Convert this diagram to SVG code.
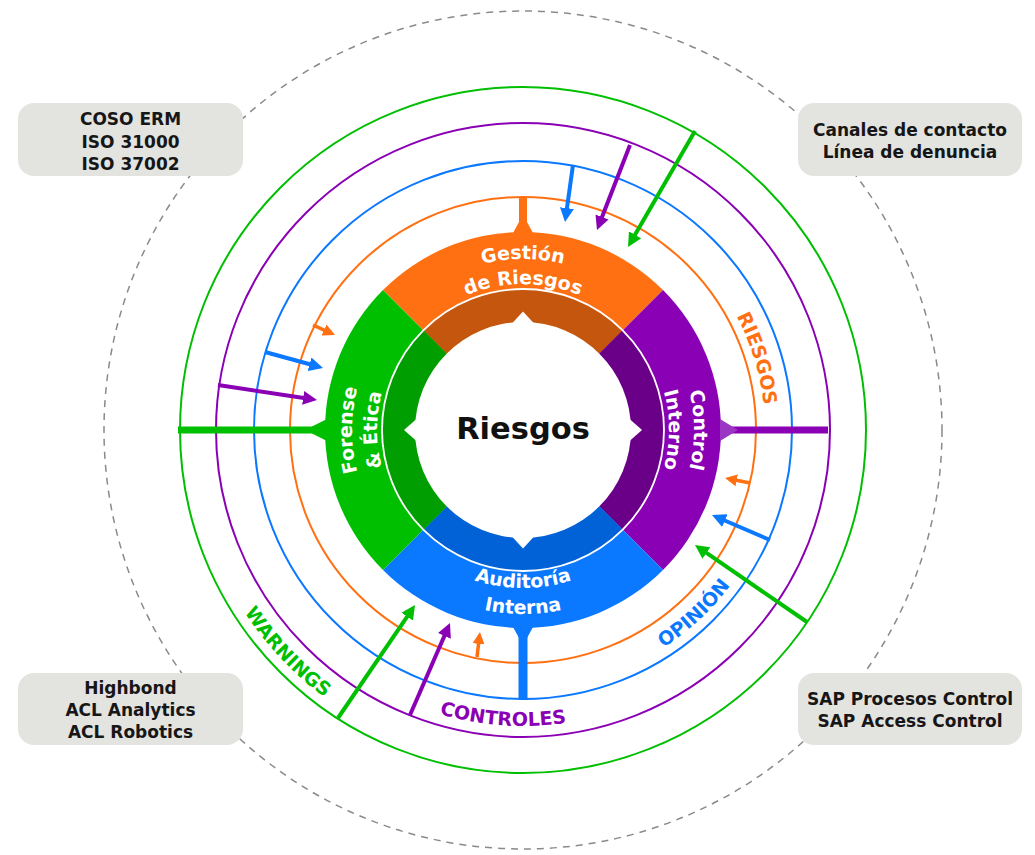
<svg xmlns="http://www.w3.org/2000/svg" width="1035" height="855" viewBox="0 0 1035 855">
<style>
.ring{fill:none;stroke-width:2}
.arr{fill:none;stroke-linecap:butt}
.wl{font-family:"DejaVu Sans","Liberation Sans",sans-serif;font-weight:bold;font-size:19px;fill:#ffffff}
.rl{font-family:"DejaVu Sans","Liberation Sans",sans-serif;font-weight:bold;font-size:19px}
.bx{fill:#e3e3e0}
.bt{font-family:"DejaVu Sans","Liberation Sans",sans-serif;font-weight:bold;font-size:17px;fill:#161616;text-anchor:middle}
</style>
<defs>
<marker id="hO" viewBox="0 0 12 12" refX="3" refY="6" markerWidth="12" markerHeight="12" markerUnits="userSpaceOnUse" orient="auto"><path d="M0,0 L12,6 L0,12 z" fill="#FF7012"/></marker>
<marker id="hB" viewBox="0 0 14 14" refX="4" refY="7" markerWidth="14" markerHeight="14" markerUnits="userSpaceOnUse" orient="auto"><path d="M0,0 L14,7 L0,14 z" fill="#0A78FF"/></marker>
<marker id="hP" viewBox="0 0 14 14" refX="4" refY="7" markerWidth="14" markerHeight="14" markerUnits="userSpaceOnUse" orient="auto"><path d="M0,0 L14,7 L0,14 z" fill="#8A00B4"/></marker>
<marker id="hG" viewBox="0 0 14 14" refX="4" refY="7" markerWidth="14" markerHeight="14" markerUnits="userSpaceOnUse" orient="auto"><path d="M0,0 L14,7 L0,14 z" fill="#00BF00"/></marker>
<path id="pGes" d="M352,430 A171,171 0 0 1 694,430"/>
<path id="pDeR" d="M377,430 A146,146 0 0 1 669,430"/>
<path id="pCon" d="M523,259 A171,171 0 0 1 523,601"/>
<path id="pInt" d="M523,284 A146,146 0 0 1 523,576"/>
<path id="pFor" d="M523,601 A171,171 0 0 1 523,259"/>
<path id="pEti" d="M523,576 A146,146 0 0 1 523,284"/>
<path id="pAud" d="M365,430 A158,158 0 0 0 681,430"/>
<path id="pIna" d="M339,430 A184,184 0 0 0 707,430"/>
<path id="pRie" d="M577.4,194.2 A242,242 0 0 1 700,595"/>
<path id="pOpi" d="M447.3,677.7 A259,259 0 0 0 775.4,371.7"/>
<path id="pCtl" d="M257,559.8 A296,296 0 0 0 768.4,595.5"/>
<path id="pWar" d="M204.1,334.3 A333,333 0 0 0 599.6,754.1"/>
</defs>

<rect width="1035" height="855" fill="#ffffff"/>

<g id="outer-ring">
<circle cx="523" cy="430" r="419" fill="none" stroke="#8a8a8a" stroke-width="1.5" stroke-dasharray="7 6"/>
</g>

<g id="rings">
<circle class="ring" cx="523" cy="430" r="343" stroke="#00BF00"/>
<circle class="ring" cx="523" cy="430" r="307" stroke="#8A00B4"/>
<circle class="ring" cx="523" cy="430" r="269" stroke="#0A78FF"/>
<circle class="ring" cx="523" cy="430" r="233" stroke="#FF7012"/>
</g>

<g id="ring-labels">
<text class="rl" fill="#FF7012"><textPath href="#pRie" startOffset="50%" text-anchor="middle">RIESGOS</textPath></text>
<text class="rl" fill="#0A78FF"><textPath href="#pOpi" startOffset="50%" text-anchor="middle">OPINIÓN</textPath></text>
<text class="rl" fill="#8A00B4"><textPath href="#pCtl" startOffset="50%" text-anchor="middle">CONTROLES</textPath></text>
<text class="rl" fill="#00BF00"><textPath href="#pWar" startOffset="50%" text-anchor="middle">WARNINGS</textPath></text>
</g>

<g id="stems">
<rect x="519" y="197" width="8" height="28" fill="#FF7012"/>
<path d="M513,233 L519,222 L527,222 L533,233 Z" fill="#FF7012"/>
<rect x="178" y="426.5" width="142" height="7" fill="#00BF00"/>
<path d="M312,426.5 L327,419 L327,441 L312,433.5 Z" fill="#00BF00"/>
<rect x="720" y="426.5" width="108" height="7" fill="#8A00B4"/>
<rect x="518.5" y="630" width="9" height="70" fill="#0A78FF"/>
<path d="M513,627 L519,638 L527,638 L533,627 Z" fill="#0A78FF"/>
</g>

<g id="node-gestion">
<path d="M523,430 L383,290 A198,198 0 0 1 663,290 Z" fill="#FF7012"/>
<path d="M523,430 L423.3,330.3 A141,141 0 0 1 622.7,330.3 Z" fill="#C4570D"/>
<text class="wl"><textPath href="#pGes" startOffset="50%" text-anchor="middle">Gestión</textPath></text>
<text class="wl"><textPath href="#pDeR" startOffset="50%" text-anchor="middle">de Riesgos</textPath></text>
</g>

<g id="node-control">
<path d="M523,430 L663,290 A198,198 0 0 1 663,570 Z" fill="#8A00B4"/>
<path d="M523,430 L622.7,330.3 A141,141 0 0 1 622.7,529.7 Z" fill="#6B0088"/>
<path d="M720,419 L738,430 L720,441 Z" fill="#9B35C4"/>
<text class="wl"><textPath href="#pCon" startOffset="50%" text-anchor="middle">Control</textPath></text>
<text class="wl"><textPath href="#pInt" startOffset="50%" text-anchor="middle">Interno</textPath></text>
</g>

<g id="node-auditoria">
<path d="M523,430 L663,570 A198,198 0 0 1 383,570 Z" fill="#0A78FF"/>
<path d="M523,430 L622.7,529.7 A141,141 0 0 1 423.3,529.7 Z" fill="#0062D6"/>
<text class="wl"><textPath href="#pAud" startOffset="50%" text-anchor="middle">Auditoría</textPath></text>
<text class="wl"><textPath href="#pIna" startOffset="50%" text-anchor="middle">Interna</textPath></text>
</g>

<g id="node-forense">
<path d="M523,430 L383,570 A198,198 0 0 1 383,290 Z" fill="#00BF00"/>
<path d="M523,430 L423.3,529.7 A141,141 0 0 1 423.3,330.3 Z" fill="#009E00"/>
<text class="wl"><textPath href="#pFor" startOffset="50%" text-anchor="middle">Forense</textPath></text>
<text class="wl"><textPath href="#pEti" startOffset="50%" text-anchor="middle">&amp; Ética</textPath></text>
</g>

<g id="node-riesgos">
<circle cx="523" cy="430" r="141" fill="none" stroke="#ffffff" stroke-width="1.8"/>
<circle cx="523" cy="430" r="108" fill="#ffffff"/>
<path d="M511.5,324 L523,311.5 L534.5,324 Z" fill="#ffffff"/>
<path d="M511.5,536 L523,548.5 L534.5,536 Z" fill="#ffffff"/>
<path d="M417,418.5 L404,430 L417,441.5 Z" fill="#ffffff"/>
<path d="M629,418.5 L642,430 L629,441.5 Z" fill="#ffffff"/>
<text x="523" y="439" font-family="'DejaVu Sans','Liberation Sans',sans-serif" font-weight="bold" font-size="30.5" fill="#111111" text-anchor="middle">Riesgos</text>
</g>

<g id="connectors">
<line class="arr" x1="573" y1="165" x2="566.4" y2="212.1" stroke="#0A78FF" stroke-width="4" marker-end="url(#hB)"/>
<line class="arr" x1="630" y1="145" x2="600.6" y2="220.7" stroke="#8A00B4" stroke-width="4" marker-end="url(#hP)"/>
<line class="arr" x1="695" y1="131" x2="633" y2="238.3" stroke="#00BF00" stroke-width="4" marker-end="url(#hG)"/>
<line class="arr" x1="313" y1="325" x2="326.8" y2="331.3" stroke="#FF7012" stroke-width="3.5" marker-end="url(#hO)"/>
<line class="arr" x1="265" y1="352" x2="313.4" y2="365.3" stroke="#0A78FF" stroke-width="4" marker-end="url(#hB)"/>
<line class="arr" x1="218" y1="385" x2="307.1" y2="398.5" stroke="#8A00B4" stroke-width="4" marker-end="url(#hP)"/>
<line class="arr" x1="750" y1="483" x2="733.8" y2="479.8" stroke="#FF7012" stroke-width="3.5" marker-end="url(#hO)"/>
<line class="arr" x1="770" y1="540" x2="721.2" y2="519" stroke="#0A78FF" stroke-width="4" marker-end="url(#hB)"/>
<line class="arr" x1="807" y1="622" x2="703.2" y2="550.7" stroke="#00BF00" stroke-width="4" marker-end="url(#hG)"/>
<line class="arr" x1="338" y1="718" x2="409.4" y2="613.3" stroke="#00BF00" stroke-width="4" marker-end="url(#hG)"/>
<line class="arr" x1="410" y1="715" x2="446" y2="632.2" stroke="#8A00B4" stroke-width="4" marker-end="url(#hP)"/>
<line class="arr" x1="477" y1="657" x2="478.9" y2="640.9" stroke="#FF7012" stroke-width="3.5" marker-end="url(#hO)"/>
</g>

<g id="box-coso">
<rect class="bx" x="18" y="103" width="225" height="73" rx="16"/>
<text class="bt" x="130.5" y="125">COSO ERM</text>
<text class="bt" x="130.5" y="147.5">ISO 31000</text>
<text class="bt" x="130.5" y="170">ISO 37002</text>
</g>
<g id="box-canales">
<rect class="bx" x="798" y="103" width="224" height="73" rx="16"/>
<text class="bt" x="910" y="136">Canales de contacto</text>
<text class="bt" x="910" y="158">Línea de denuncia</text>
</g>
<g id="box-highbond">
<rect class="bx" x="18" y="673" width="225" height="72" rx="16"/>
<text class="bt" x="130.5" y="694">Highbond</text>
<text class="bt" x="130.5" y="716">ACL Analytics</text>
<text class="bt" x="130.5" y="738">ACL Robotics</text>
</g>
<g id="box-sap">
<rect class="bx" x="798" y="673" width="224" height="72" rx="16"/>
<text class="bt" x="910" y="705">SAP Procesos Control</text>
<text class="bt" x="910" y="727">SAP Access Control</text>
</g>
</svg>
